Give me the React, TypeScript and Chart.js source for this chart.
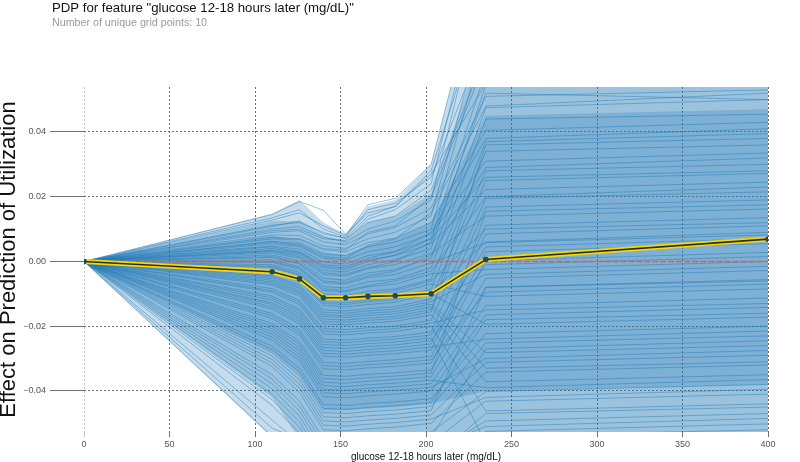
import React, { useEffect, useRef } from "react";
import { Chart, registerables } from "chart.js";

Chart.register(...registerables);

const TITLE = 'PDP for feature "glucose 12-18 hours later (mg/dL)"';
const SUBTITLE = "Number of unique grid points: 10";
const X_LABEL = "glucose 12-18 hours later (mg/dL)";
const Y_LABEL = "Effect on Prediction of Utilization";

const GRID_X = [0, 110, 126, 140, 153, 166, 182, 203, 235, 400];
const PDP_Y = [0, -0.0032, -0.0054, -0.0112, -0.0112, -0.0108, -0.0106, -0.01, 0.0006, 0.0069];
const ZERO_LINE_Y = [0, 0];
const X_TICKS = [0, 50, 100, 150, 200, 250, 300, 350, 400];
const Y_TICKS = [-0.04, -0.02, 0, 0.02, 0.04];
const Y_MIN = -0.0527;
const Y_MAX = 0.0539;

// Density envelopes of the ICE curves (values at GRID_X)
const OUTER_UPPER = [0, 0.0148, 0.019, 0.012, 0.0085, 0.017, 0.019, 0.03, 0.096, 0.099];
const OUTER_LOWER = [0, -0.0545, -0.08, -0.09, -0.09, -0.09, -0.09, -0.09, -0.09, -0.09];
const MID_UPPER = [0, 0.0125, 0.0125, 0.008, 0.0065, 0.012, 0.014, 0.021, 0.07, 0.072];
const MID_LOWER = [0, -0.042, -0.055, -0.07, -0.07, -0.07, -0.07, -0.07, -0.065, -0.062];
const CORE_UPPER = [0, 0.008, 0.0065, 0.003, 0.002, 0.005, 0.007, 0.012, 0.045, 0.047];
const CORE_LOWER = [0, -0.028, -0.035, -0.046, -0.046, -0.0455, -0.045, -0.044, -0.04, -0.038];

// Individual conditional expectation curves (values at GRID_X)
const ICE_LINES = [
  [0, 0.0145, 0.0185, 0.0158, 0.0084, 0.015, 0.017, 0.028, 0.082, 0.085],
  [0, 0.0128, 0.015, 0.011, 0.008, 0.0175, 0.0195, 0.03, 0.096, 0.099],
  [0, 0.0112, 0.012, 0.009, 0.007, 0.012, 0.014, 0.022, 0.064, 0.069],
  [0, 0.01, 0.0108, 0.0075, 0.006, 0.01, 0.0125, 0.019, 0.088, 0.092],
  [0, 0.009, 0.0095, 0.006, 0.0052, 0.0085, 0.0105, 0.0165, 0.051, 0.053],
  [0, 0.0082, 0.008, 0.0048, 0.004, 0.007, 0.009, 0.014, 0.076, 0.08],
  [0, 0.007, 0.0068, 0.0036, 0.003, 0.0058, 0.0072, 0.012, 0.0405, 0.043],
  [0, 0.0062, 0.0055, 0.0022, 0.0018, 0.0045, 0.006, 0.01, 0.07, 0.073],
  [0, 0.0055, 0.0046, 0.001, 0.0005, 0.003, 0.0045, 0.0085, 0.031, 0.0335],
  [0, 0.0048, 0.0038, -0.0002, -0.0008, 0.0018, 0.003, 0.007, 0.059, 0.062],
  [0, 0.004, 0.0028, -0.0015, -0.002, 0.0005, 0.0018, 0.0055, 0.0222, 0.0245],
  [0, 0.0033, 0.002, -0.0028, -0.0032, -0.001, 0.0005, 0.004, 0.0545, 0.056],
  [0, 0.0026, 0.001, -0.004, -0.0045, -0.0022, -0.001, 0.0025, 0.014, 0.0162],
  [0, 0.002, 0.0002, -0.0052, -0.0058, -0.0036, -0.0025, 0.001, 0.0475, 0.05],
  [0, 0.0012, -0.0008, -0.0065, -0.007, -0.005, -0.004, -0.0005, 0.0058, 0.0082],
  [0, 0.0005, -0.0016, -0.0078, -0.0082, -0.0063, -0.0055, -0.002, 0.044, 0.0455],
  [0, -0.0003, -0.0025, -0.009, -0.0094, -0.0078, -0.007, -0.0038, -0.0025, 0.0],
  [0, -0.001, -0.0034, -0.01, -0.0105, -0.0092, -0.0085, -0.0055, 0.037, 0.0395],
  [0, -0.0018, -0.0043, -0.0112, -0.0116, -0.0106, -0.0098, -0.007, -0.0108, -0.0085],
  [0, -0.0026, -0.0052, -0.0124, -0.0128, -0.012, -0.0112, -0.0086, 0.034, 0.036],
  [0, -0.0035, -0.0062, -0.0136, -0.014, -0.0133, -0.0126, -0.01, -0.0194, -0.0172],
  [0, -0.0044, -0.0072, -0.015, -0.0153, -0.0146, -0.014, -0.0116, 0.028, 0.03],
  [0, -0.0053, -0.0083, -0.0164, -0.0167, -0.016, -0.0155, -0.0132, -0.0282, -0.026],
  [0, -0.0063, -0.0095, -0.0178, -0.0181, -0.0175, -0.017, -0.0148, 0.025, 0.0272],
  [0, -0.0073, -0.0107, -0.0193, -0.0196, -0.019, -0.0185, -0.0165, -0.0372, -0.035],
  [0, -0.0084, -0.012, -0.0208, -0.0211, -0.0205, -0.02, -0.0182, 0.0195, 0.0215],
  [0, -0.0095, -0.0133, -0.0224, -0.0227, -0.0221, -0.0216, -0.02, -0.0462, -0.044],
  [0, -0.0107, -0.0147, -0.024, -0.0243, -0.0237, -0.0232, -0.0218, 0.0168, 0.019],
  [0, -0.012, -0.0162, -0.0257, -0.026, -0.0254, -0.0249, -0.0236, -0.056, -0.0535],
  [0, -0.0133, -0.0177, -0.0275, -0.0278, -0.0272, -0.0267, -0.0255, 0.0112, 0.0135],
  [0, -0.0147, -0.0193, -0.0293, -0.0296, -0.029, -0.0285, -0.0274, 0.0085, 0.011],
  [0, -0.0161, -0.021, -0.0312, -0.0315, -0.0309, -0.0304, -0.0294, 0.003, 0.0055],
  [0, -0.0176, -0.0228, -0.0332, -0.0335, -0.0329, -0.0324, -0.0314, 0.0002, 0.0028],
  [0, -0.0192, -0.0247, -0.0352, -0.0355, -0.0349, -0.0344, -0.0335, -0.0052, -0.0028],
  [0, -0.0208, -0.0266, -0.0373, -0.0376, -0.037, -0.0365, -0.0356, -0.008, -0.0056],
  [0, -0.0225, -0.0286, -0.0395, -0.0398, -0.0392, -0.0387, -0.0378, -0.0136, -0.0113],
  [0, -0.0243, -0.0307, -0.0418, -0.0421, -0.0415, -0.041, -0.04, -0.0165, -0.0142],
  [0, -0.0262, -0.033, -0.0442, -0.0445, -0.0439, -0.0434, -0.0424, -0.0223, -0.02],
  [0, -0.0282, -0.0354, -0.0467, -0.047, -0.0464, -0.0459, -0.0448, -0.0252, -0.023],
  [0, -0.0303, -0.0379, -0.0493, -0.0496, -0.049, -0.0485, -0.0474, -0.0312, -0.029],
  [0, -0.0325, -0.0405, -0.052, -0.0523, -0.0517, -0.0512, -0.05, -0.0342, -0.032],
  [0, -0.035, -0.0432, -0.0548, -0.0551, -0.0545, -0.054, -0.0527, -0.0402, -0.038],
  [0, -0.0378, -0.0462, -0.058, -0.0583, -0.0577, -0.0572, -0.056, -0.0432, -0.041],
  [0, -0.041, -0.0495, -0.0615, -0.0618, -0.0612, -0.0607, -0.0595, -0.0493, -0.047],
  [0, -0.0445, -0.053, -0.065, -0.0653, -0.0647, -0.0642, -0.063, -0.0525, -0.0502],
  [0, -0.049, -0.056, -0.069, -0.0693, -0.0687, -0.0682, -0.067, -0.06, -0.057],
  [0, -0.054, -0.0545, -0.075, -0.0753, -0.0747, -0.0742, -0.073, -0.065, -0.062],
  [0, 0.0135, 0.016, 0.01, 0.0075, 0.016, 0.018, 0.026, 0.07, 0.074],
  [0, 0.0095, 0.01, 0.007, 0.0065, 0.013, 0.016, 0.024, 0.092, 0.095],
  [0, 0.0075, 0.007, 0.004, 0.0035, 0.009, 0.011, 0.02, 0.062, 0.06],
  [0, 0.006, 0.005, 0.0015, 0.001, 0.005, 0.007, 0.015, 0.048, 0.052],
  [0, 0.0045, 0.003, -0.001, -0.0015, 0.001, 0.003, 0.009, 0.038, 0.041],
  [0, 0.003, 0.0015, -0.0035, -0.004, -0.002, 0.0, 0.006, 0.052, 0.05],
  [0, 0.0015, -0.0005, -0.006, -0.0065, -0.0045, -0.003, 0.002, 0.029, 0.032],
  [0, 0.0, -0.002, -0.0085, -0.009, -0.0075, -0.006, -0.003, 0.02, 0.023],
  [0, -0.0015, -0.004, -0.0105, -0.011, -0.01, -0.009, -0.006, 0.01, 0.012],
  [0, -0.003, -0.0058, -0.013, -0.0133, -0.0125, -0.0118, -0.0095, 0.006, 0.009],
  [0, -0.0048, -0.0078, -0.0157, -0.016, -0.0153, -0.0147, -0.0124, -0.004, -0.0015],
  [0, -0.0068, -0.01, -0.0185, -0.0188, -0.0182, -0.0177, -0.0156, 0.036, 0.038],
  [0, -0.009, -0.0126, -0.0216, -0.0219, -0.0213, -0.0208, -0.019, -0.015, -0.013],
  [0, -0.0113, -0.0154, -0.0248, -0.0251, -0.0245, -0.024, -0.0227, 0.0045, 0.007],
  [0, -0.014, -0.0185, -0.0284, -0.0287, -0.0281, -0.0276, -0.0264, -0.024, -0.0215],
  [0, -0.0168, -0.0219, -0.0322, -0.0325, -0.0319, -0.0314, -0.0304, -0.0095, -0.007],
  [0, -0.02, -0.0256, -0.0362, -0.0365, -0.0359, -0.0354, -0.0345, 0.0155, 0.0175],
  [0, -0.0234, -0.0296, -0.0406, -0.0409, -0.0403, -0.0398, -0.0389, -0.03, -0.0275],
  [0, -0.0272, -0.0342, -0.0454, -0.0457, -0.0451, -0.0446, -0.0436, -0.018, -0.016],
  [0, -0.0314, -0.0392, -0.0506, -0.0509, -0.0503, -0.0498, -0.0487, -0.042, -0.0395],
  [0, -0.0363, -0.0447, -0.0564, -0.0567, -0.0561, -0.0556, -0.0543, -0.027, -0.0245],
  [0, -0.0427, -0.0512, -0.0632, -0.0635, -0.0629, -0.0624, -0.0612, -0.047, -0.045],
  [0, -0.0515, -0.055, -0.072, -0.0723, -0.0717, -0.0712, -0.07, -0.054, -0.052],
  [0, 0.0108, 0.0125, 0.0085, 0.0072, 0.014, 0.017, 0.027, 0.055, 0.058],
  [0, 0.0035, 0.0025, -0.002, -0.0025, 0.0, 0.002, 0.007, 0.026, 0.028],
  [0, -0.0058, -0.009, -0.017, -0.0173, -0.0167, -0.0162, -0.014, -0.033, -0.031],
  [0, -0.0128, -0.017, -0.0266, -0.0269, -0.0263, -0.0258, -0.0245, -0.001, 0.0015],
  [0, -0.0217, -0.0276, -0.0384, -0.0387, -0.0381, -0.0376, -0.0367, -0.039, -0.0365],
  [0, -0.0292, -0.0366, -0.048, -0.0483, -0.0477, -0.0472, -0.0461, -0.008, -0.006],
  [0, -0.0393, -0.0478, -0.0597, -0.06, -0.0594, -0.0589, -0.0577, -0.051, -0.0485],
];

const FONT = '"Liberation Sans", Arial, sans-serif';

const toPts = (ys: number[]) => ys.map((y, i) => ({ x: GRID_X[i], y }));

const headerPlugin = {
  id: "header",
  afterDraw(chart: any) {
    const ctx = chart.ctx;
    ctx.save();
    ctx.textAlign = "left";
    ctx.textBaseline = "alphabetic";
    ctx.fillStyle = "#111";
    ctx.font = `13.2px ${FONT}`;
    ctx.fillText(TITLE, 52, 12);
    ctx.fillStyle = "#9a9a9a";
    ctx.font = `10.7px ${FONT}`;
    ctx.fillText(SUBTITLE, 52, 26);
    ctx.restore();
  },
};

function band(upper: number[], lower: number[], color: string, order: number) {
  return [
    {
      data: toPts(upper),
      borderWidth: 0,
      pointRadius: 0,
      backgroundColor: color,
      fill: "+1",
      order,
    },
    {
      data: toPts(lower),
      borderWidth: 0,
      pointRadius: 0,
      fill: false,
      order,
    },
  ];
}

export default function App() {
  const ref = useRef<HTMLCanvasElement>(null);

  useEffect(() => {
    if (!ref.current) return;
    const datasets: any[] = [
      {
        data: toPts(PDP_Y),
        borderColor: "#16323f",
        borderWidth: 1.6,
        pointRadius: 2.8,
        pointBackgroundColor: "#1d4b57",
        pointBorderWidth: 0,
        fill: false,
        order: 0,
      },
      {
        data: toPts(PDP_Y),
        borderColor: "#ffd400",
        borderWidth: 5,
        pointRadius: 0,
        fill: false,
        order: 1,
      },
      {
        data: [
          { x: GRID_X[0], y: ZERO_LINE_Y[0] },
          { x: GRID_X[GRID_X.length - 1], y: ZERO_LINE_Y[1] },
        ],
        borderColor: "#ff5a28",
        borderWidth: 1.5,
        borderDash: [5, 3],
        pointRadius: 0,
        fill: false,
        order: 2,
      },
      ...ICE_LINES.map((ys) => ({
        data: toPts(ys),
        borderColor: "rgba(31,119,180,0.45)",
        borderWidth: 1,
        pointRadius: 0,
        fill: false,
        order: 3,
      })),
      ...band(CORE_UPPER, CORE_LOWER, "rgba(31,119,180,0.25)", 10),
      ...band(MID_UPPER, MID_LOWER, "rgba(31,119,180,0.25)", 11),
      ...band(OUTER_UPPER, OUTER_LOWER, "rgba(31,119,180,0.26)", 12),
    ];

    const chart = new Chart(ref.current, {
      type: "line",
      data: { datasets },
      plugins: [headerPlugin],
      options: {
        responsive: false,
        animation: false,
        events: [],
        layout: { padding: { left: 0, right: 32, top: 87, bottom: 0 } },
        plugins: {
          legend: { display: false },
          tooltip: { enabled: false },
          title: { display: false },
        },
        elements: { line: { tension: 0 } },
        scales: {
          x: {
            type: "linear",
            min: 0,
            max: 400,
            afterFit: (s: any) => {
              s.height = 30;
            },
            afterBuildTicks: (s: any) => {
              s.ticks = X_TICKS.map((v) => ({ value: v }));
            },
            border: { display: false, dash: [2, 2] },
            grid: {
              color: (c: any) => (c.tick && c.tick.value === 0 ? "#c4c4c4" : "#707070"),
              lineWidth: 1,
              tickLength: 5,
              drawTicks: true,
            },
            ticks: {
              color: "#555",
              font: { family: FONT, size: 9 },
              padding: 2,
              maxRotation: 0,
            },
            title: {
              display: true,
              text: X_LABEL,
              color: "#111",
              font: { family: FONT, size: 10, lineHeight: 1 },
              padding: { top: 0, bottom: 0 },
            },
          },
          y: {
            type: "linear",
            min: Y_MIN,
            max: Y_MAX,
            afterFit: (s: any) => {
              s.width = 84;
            },
            afterBuildTicks: (s: any) => {
              s.ticks = Y_TICKS.map((v) => ({ value: v }));
            },
            border: { display: false, dash: [2, 2] },
            grid: {
              color: "#707070",
              lineWidth: 1,
              tickLength: 34,
              drawTicks: true,
            },
            ticks: {
              color: "#555",
              font: { family: FONT, size: 9 },
              padding: 4,
              callback: (v: any) => {
                const n = Number(v);
                const s = Math.abs(n).toFixed(2);
                return n < -1e-9 ? "\u2212" + s : s;
              },
            },
            title: {
              display: true,
              text: Y_LABEL,
              color: "#111",
              font: { family: FONT, size: 22, lineHeight: 0.8 },
              padding: { top: 0, bottom: 0 },
            },
          },
        },
      },
    });
    return () => chart.destroy();
  }, []);

  return (
    <div style={{ position: "fixed", left: 0, top: 0, width: 800, height: 462, background: "#fff" }}>
      <canvas ref={ref} width={800} height={462} style={{ display: "block" }} />
    </div>
  );
}
